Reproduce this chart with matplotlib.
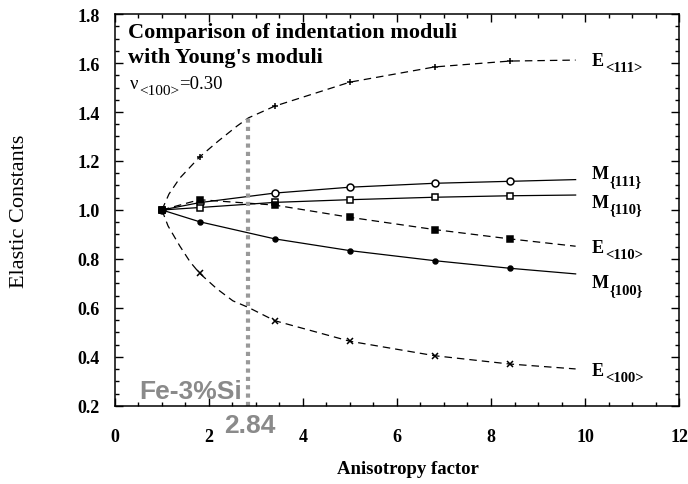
import numpy as np
import matplotlib
matplotlib.use("Agg")
import matplotlib.pyplot as plt
from matplotlib.ticker import MultipleLocator

plt.rcParams['font.family'] = ['Liberation Serif', 'DejaVu Serif']

# anisotropy factors where markers sit, and where the curves end
x_pts = [1.0, 1.8, 3.4, 5.0, 6.8, 8.4]
x_end = 9.8

e111 = [1.0, 1.216, 1.424, 1.522, 1.584, 1.608]
m111 = [1.0, 1.03, 1.069, 1.093, 1.109, 1.117]
m110 = [1.0, 1.01, 1.031, 1.042, 1.052, 1.058]
e110 = [1.0, 1.042, 1.020, 0.970, 0.920, 0.882]
m100 = [1.0, 0.952, 0.882, 0.834, 0.793, 0.762]
e100 = [1.0, 0.742, 0.548, 0.464, 0.405, 0.371]
end_vals = [1.612, 1.124, 1.061, 0.852, 0.739, 0.351]

# extra points
e111_extra_x = [1.15, 1.38, 2.19, 2.6, 2.84]
e111_extra = [1.065, 1.13, 1.28, 1.343, 1.376]
e100_extra_x = [1.13, 1.38, 1.6, 2.17, 2.51, 2.84]
e100_extra = [0.935, 0.853, 0.788, 0.678, 0.629, 0.602]

fe_si = 2.84
fe_si_top = 1.376

label_main = ['E', 'M', 'M', 'E', 'M', 'E']
label_sub = ['<111>', '{111}', '{110}', '<110>', '{100}', '<100>']
label_y = [1.616, 1.155, 1.037, 0.853, 0.71, 0.351]


def curve(xs, ys, end, ex=(), ey=()):
    x = list(xs) + [x_end] + list(ex)
    y = list(ys) + [end] + list(ey)
    order = np.argsort(x)
    return np.array(x)[order], np.array(y)[order]


def sub_text(ax, x, y, main, sub, size, subsize, weight, transform=None, after=None):
    kw = dict(transform=transform) if transform is not None else {}
    t = ax.text(x, y, main, fontsize=size, fontweight=weight, ha='left',
                va='bottom', **kw)
    s = ax.annotate(sub, xy=(1, 0), xycoords=t, xytext=(0.5, -3.5),
                    textcoords='offset points', fontsize=subsize,
                    fontweight=weight, va='bottom', ha='left')
    if after:
        ax.annotate(after, xy=(1, 0), xycoords=s, xytext=(0, 3.5),
                    textcoords='offset points', fontsize=size,
                    fontweight=weight, va='bottom', ha='left')


fig = plt.figure(figsize=(6.88, 4.85), dpi=100)
ax = fig.add_axes([0.167, 0.161, 0.820, 0.808])

series = [
    (e111, '+', 'black', '--', e111_extra_x, e111_extra),
    (m111, 'o', 'white', '-', [], []),
    (m110, 's', 'white', '-', [], []),
    (e110, 's', 'black', '--', [], []),
    (m100, 'o', 'black', '-', [], []),
    (e100, 'x', 'black', '--', e100_extra_x, e100_extra),
]
for i, (ys, mk, fc, ls, ex, ey) in enumerate(series):
    cx, cy = curve(x_pts, ys, end_vals[i], ex, ey)
    line, = ax.plot(cx, cy, color='black', lw=0.9, ls=ls)
    if ls == '--':
        line.set_dashes((6, 4))
    ms = 3.5 if (mk == 'o' and fc == 'black') else 5
    ax.plot(x_pts, ys, ls='none', marker=mk, ms=ms, mfc=fc, mec='black', mew=1.1)
    sub_text(ax, 10.15, label_y[i] - 0.04, label_main[i], label_sub[i], 13, 10.5, 'bold')

ax.vlines(fe_si, 0.2, fe_si_top, colors='#999999', linestyles=(0, (1, 1)), lw=3)
ax.text(2.70, 0.233, 'Fe-3%Si', family='Liberation Sans', fontsize=19,
        fontweight='bold', color='#8a8a8a', ha='right', va='baseline')
ax.text(fe_si + 0.03, 0.17, '2.84', family='Liberation Sans', fontsize=19,
        fontweight='bold', color='#8a8a8a', ha='center', va='top', clip_on=False)

ax.text(0.023, 0.941, 'Comparison of indentation moduli', transform=ax.transAxes,
        fontsize=16, fontweight='bold', va='baseline')
ax.text(0.023, 0.878, "with Young's moduli", transform=ax.transAxes,
        fontsize=16, fontweight='bold', va='baseline')
sub_text(ax, 0.027, 0.80, '\u03bd', '<100>', 13.5, 11, 'normal',
         transform=ax.transAxes, after='=0.30')

ax.set_xlim(0, 12)
ax.set_ylim(0.2, 1.8)
ax.xaxis.set_major_locator(MultipleLocator(2))
ax.xaxis.set_minor_locator(MultipleLocator(0.5))
ax.yaxis.set_major_locator(MultipleLocator(0.2))
ax.yaxis.set_minor_locator(MultipleLocator(0.05))
ax.yaxis.set_major_formatter(plt.FormatStrFormatter('%.1f'))
ax.tick_params(which='both', direction='in', top=True, right=True, width=1)
ax.tick_params(which='major', length=6)
ax.tick_params(which='minor', length=3)
ax.tick_params(axis='x', pad=16)
ax.tick_params(axis='y', pad=11)
for lab in ax.get_xticklabels() + ax.get_yticklabels():
    lab.set_fontweight('bold')
    lab.set_fontsize(13)
for sp in ax.spines.values():
    sp.set_linewidth(1.1)

fig.text(0.593, 0.031, 'Anisotropy factor', fontsize=13.5, fontweight='bold',
         ha='center', va='center')
fig.text(0.028, 0.565, 'Elastic Constants', fontsize=16, rotation=90,
         ha='center', va='center')

fig.savefig('out.png', dpi=100)
